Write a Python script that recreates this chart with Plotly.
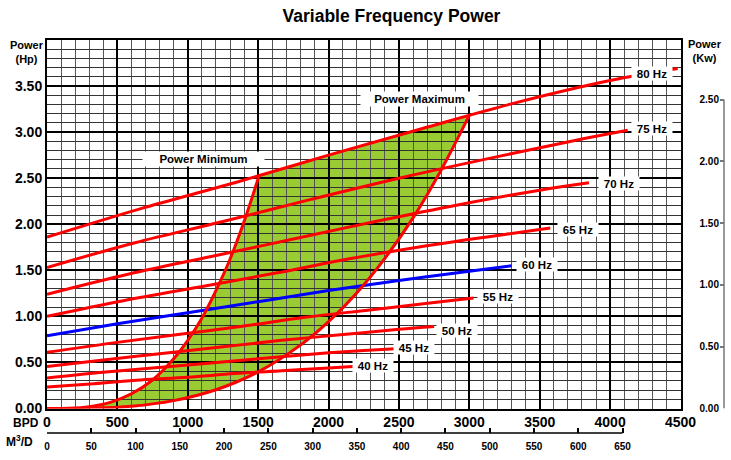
import plotly.graph_objects as go

# ---------------- data ----------------
BPD_TO_M3D = 0.158987
HP_TO_KW = 0.7457

bpd_ticks = [0, 500, 1000, 1500, 2000, 2500, 3000, 3500, 4000, 4500]
hp_ticks = [0.0, 0.5, 1.0, 1.5, 2.0, 2.5, 3.0, 3.5]
m3d_ticks = [0, 50, 100, 150, 200, 250, 300, 350, 400, 450, 500, 550, 600, 650]
kw_ticks = [0.0, 0.5, 1.0, 1.5, 2.0, 2.5]

hz_labels = ["40 Hz", "45 Hz", "50 Hz", "55 Hz", "60 Hz", "65 Hz", "70 Hz", "75 Hz", "80 Hz"]

hz40_q = [0, 333, 667, 1000, 1333, 1667, 2000, 2200]
hz40_p = [0.235, 0.27, 0.31, 0.34, 0.38, 0.41, 0.44, 0.46]
hz45_q = [0, 375, 750, 1125, 1500, 1875, 2250, 2475]
hz45_p = [0.33, 0.39, 0.44, 0.49, 0.54, 0.59, 0.63, 0.65]
hz50_q = [0, 417, 833, 1250, 1667, 2083, 2500, 2750]
hz50_p = [0.455, 0.53, 0.60, 0.67, 0.74, 0.80, 0.86, 0.89]
hz55_q = [0, 458, 917, 1375, 1833, 2292, 2750, 3030]
hz55_p = [0.61, 0.71, 0.80, 0.89, 0.99, 1.07, 1.15, 1.20]
hz60_q = [0, 500, 1000, 1500, 2000, 2500, 3000, 3300]
hz60_p = [0.79, 0.92, 1.04, 1.16, 1.28, 1.39, 1.49, 1.55]
hz65_q = [0, 542, 1083, 1625, 2167, 2708, 3250, 3575]
hz65_p = [1.00, 1.17, 1.32, 1.47, 1.63, 1.77, 1.89, 1.96]
hz70_q = [0, 583, 1167, 1750, 2333, 2917, 3500, 3850]
hz70_p = [1.24, 1.46, 1.65, 1.84, 2.03, 2.21, 2.37, 2.45]
hz75_q = [0, 625, 1250, 1875, 2500, 3125, 3750, 4125]
hz75_p = [1.53, 1.80, 2.03, 2.27, 2.50, 2.71, 2.91, 3.02]
hz80_q = [0, 667, 1333, 2000, 2667, 3333, 4000, 4480]
hz80_p = [1.86, 2.17, 2.45, 2.75, 3.04, 3.32, 3.56, 3.69]

# label anchor positions (BPD, Hp)
hz_label_q = [2316, 2607, 2910, 3204, 3481, 3772, 4063, 4295, 4297]
hz_label_p = [0.466, 0.666, 0.851, 1.220, 1.566, 1.946, 2.444, 3.037, 3.637]

# power minimum / maximum boundary curves
pmin_q = [0, 150, 300, 450, 600, 750, 900, 1000, 1100, 1200, 1300, 1400, 1505]
pmin_p = [0, 0.0025, 0.02, 0.067, 0.16, 0.31, 0.54, 0.74, 0.98, 1.28, 1.62, 2.03, 2.52]
pmax_q = [0, 300, 600, 900, 1200, 1500, 1800, 2000, 2200, 2400, 2600, 2800, 3002]
pmax_p = [0, 0.003, 0.025, 0.086, 0.204, 0.398, 0.688, 0.943, 1.255, 1.63, 2.07, 2.59, 3.19]
# upper edge of region (along 80 Hz curve, between the corners)
ptop_q = [2000, 2667]
ptop_p = [2.75, 3.04]

curves = [
    (hz40_q, hz40_p), (hz45_q, hz45_p), (hz50_q, hz50_p), (hz55_q, hz55_p),
    (hz60_q, hz60_p), (hz65_q, hz65_p), (hz70_q, hz70_p), (hz75_q, hz75_p),
    (hz80_q, hz80_p),
]

# ---------------- layout geometry ----------------
W, H = 731, 460
L, R, T, B = 47, 7, 39.5, 27
PW = W - L - R           # 677
PH = H - T - B           # 393.5
X_DOM_END = (680.5 - L) / PW
Y_DOM_START = (433 - 408.5) / PH

def px(xp):
    return (xp - L) / PW

def py(yp):
    return (H - B - yp) / PH

RED = "#fe0000"
BLUE = "#0000fe"
GREEN = "#99cc33"
FONT = "Liberation Sans, Arial, sans-serif"

fig = go.Figure()

for i, (q, p) in enumerate(curves):
    fig.add_trace(go.Scatter(
        x=q, y=p, mode="lines",
        line=dict(color=BLUE if hz_labels[i] == "60 Hz" else RED, width=3, shape="spline"),
        hoverinfo="skip", showlegend=False))

fig.add_trace(go.Scatter(x=pmin_q, y=pmin_p, mode="lines",
                         line=dict(color=RED, width=3, shape="spline"),
                         hoverinfo="skip", showlegend=False))
fig.add_trace(go.Scatter(x=pmax_q, y=pmax_p, mode="lines",
                         line=dict(color=RED, width=3, shape="spline"),
                         hoverinfo="skip", showlegend=False))

# invisible anchors for secondary axes
fig.add_trace(go.Scatter(x=[0], y=[0], xaxis="x2", yaxis="y", mode="markers",
                         marker=dict(opacity=0), hoverinfo="skip", showlegend=False))
fig.add_trace(go.Scatter(x=[0], y=[0], xaxis="x", yaxis="y2", mode="markers",
                         marker=dict(opacity=0), hoverinfo="skip", showlegend=False))

# green operating region (below gridlines)
poly_q = pmin_q + ptop_q + pmax_q[::-1]
poly_p = pmin_p + ptop_p + pmax_p[::-1]
path = "M " + " L ".join(f"{a},{b}" for a, b in zip(poly_q, poly_p)) + " Z"

shapes = [
    dict(type="path", path=path, xref="x", yref="y", layer="below",
         fillcolor=GREEN, line=dict(width=0)),
    dict(type="line", xref="x2", yref="paper", x0=0, x1=650, y0=0, y1=0,
         line=dict(color="black", width=1.5)),
    dict(type="line", xref="paper", yref="y2", x0=1, x1=1, y0=0, y1=2.5,
         line=dict(color="#777777", width=1.5)),
]

bold = dict(family=FONT, color="black", weight="bold")

annotations = []
for lab, q, p in zip(hz_labels, hz_label_q, hz_label_p):
    annotations.append(dict(x=q, y=p, xref="x", yref="y", text=lab, showarrow=False,
                            xanchor="center", yanchor="middle",
                            font=dict(size=11.5, **bold), bgcolor="white",
                            width=40, height=13, borderpad=0))
annotations += [
    dict(x=1115, y=2.705, xref="x", yref="y", text="Power Minimum", showarrow=False,
         xanchor="center", yanchor="middle",
         font=dict(size=11.5, **bold), bgcolor="white", width=121, height=14, borderpad=0),
    dict(x=2646, y=3.355, xref="x", yref="y", text="Power Maximum", showarrow=False,
         xanchor="center", yanchor="middle",
         font=dict(size=11.5, **bold), bgcolor="white", width=117, height=14, borderpad=0),
    dict(x=px(27), y=py(51.5), xref="paper", yref="paper", text="Power<br>(Hp)",
         xanchor="center", yanchor="middle",
         showarrow=False, font=dict(size=11, **bold), align="center"),
    dict(x=px(705), y=py(51), xref="paper", yref="paper", text="Power<br>(Kw)",
         xanchor="center", yanchor="middle",
         showarrow=False, font=dict(size=11, **bold), align="center"),
    dict(x=px(26), y=py(422.5), xref="paper", yref="paper", text="BPD",
         xanchor="center", yanchor="middle",
         showarrow=False, font=dict(size=12, **bold)),
    dict(x=px(19), y=py(441), xref="paper", yref="paper", text="M<sup>3</sup>/D",
         xanchor="center", yanchor="middle",
         showarrow=False, font=dict(size=12, **bold)),
]

fig.update_layout(
    template="none",
    width=W, height=H,
    margin=dict(l=L, r=R, t=T, b=B, autoexpand=False),
    paper_bgcolor="white", plot_bgcolor="white",
    showlegend=False,
    title=dict(text="Variable Frequency Power", x=391.5 / W, xanchor="center",
               y=1 - 16 / H, yanchor="middle", font=dict(size=17.5, **bold)),
    xaxis=dict(domain=[0, X_DOM_END], range=[0, 4500], tickmode="array",
               tickvals=bpd_ticks, ticktext=[str(v) for v in bpd_ticks],
               automargin=False,
               showgrid=True, gridcolor="black", gridwidth=2,
               minor=dict(tickmode="linear", tick0=0, dtick=100, showgrid=True,
                          gridcolor="#555555", gridwidth=1),
               showline=True, mirror=True, linecolor="black", linewidth=2,
               ticks="", zeroline=False, tickfont=dict(size=14, **bold)),
    yaxis=dict(domain=[Y_DOM_START, 1], range=[0, 4.0], tickmode="array",
               tickvals=hp_ticks, ticktext=[f"{v:.2f}" for v in hp_ticks],
               automargin=False,
               showgrid=True, gridcolor="black", gridwidth=2,
               minor=dict(tickmode="linear", tick0=0, dtick=0.1, showgrid=True,
                          gridcolor="#333333", gridwidth=1),
               showline=True, mirror=True, linecolor="black", linewidth=2,
               ticks="", zeroline=False, tickfont=dict(size=14, **bold)),
    xaxis2=dict(overlaying="x", anchor="free", position=0, automargin=False,
                range=[0, 4500 * BPD_TO_M3D], tickmode="array", tickvals=m3d_ticks,
                ticktext=[str(v) for v in m3d_ticks],
                ticks="inside", ticklen=5, tickwidth=1.5, tickcolor="black",
                ticklabelstandoff=6,
                showgrid=False, showline=False, zeroline=False,
                tickfont=dict(size=10, **bold)),
    yaxis2=dict(overlaying="y", anchor="free", position=1, side="right",
                automargin=False,
                range=[0, 4.0 * HP_TO_KW], tickmode="array", tickvals=kw_ticks,
                ticktext=[f"{v:.2f}" for v in kw_ticks],
                ticks="inside", ticklen=4, tickwidth=1.5, tickcolor="#777777",
                ticklabelposition="inside", ticklabeloverflow="allow",
                showgrid=False, showline=False, zeroline=False,
                tickfont=dict(size=10, **bold)),
    shapes=shapes,
    annotations=annotations,
)

fig.write_html("out.html",
               config={"displayModeBar": False},
               post_script="document.body.style.margin='0px';document.body.style.padding='0px';")
